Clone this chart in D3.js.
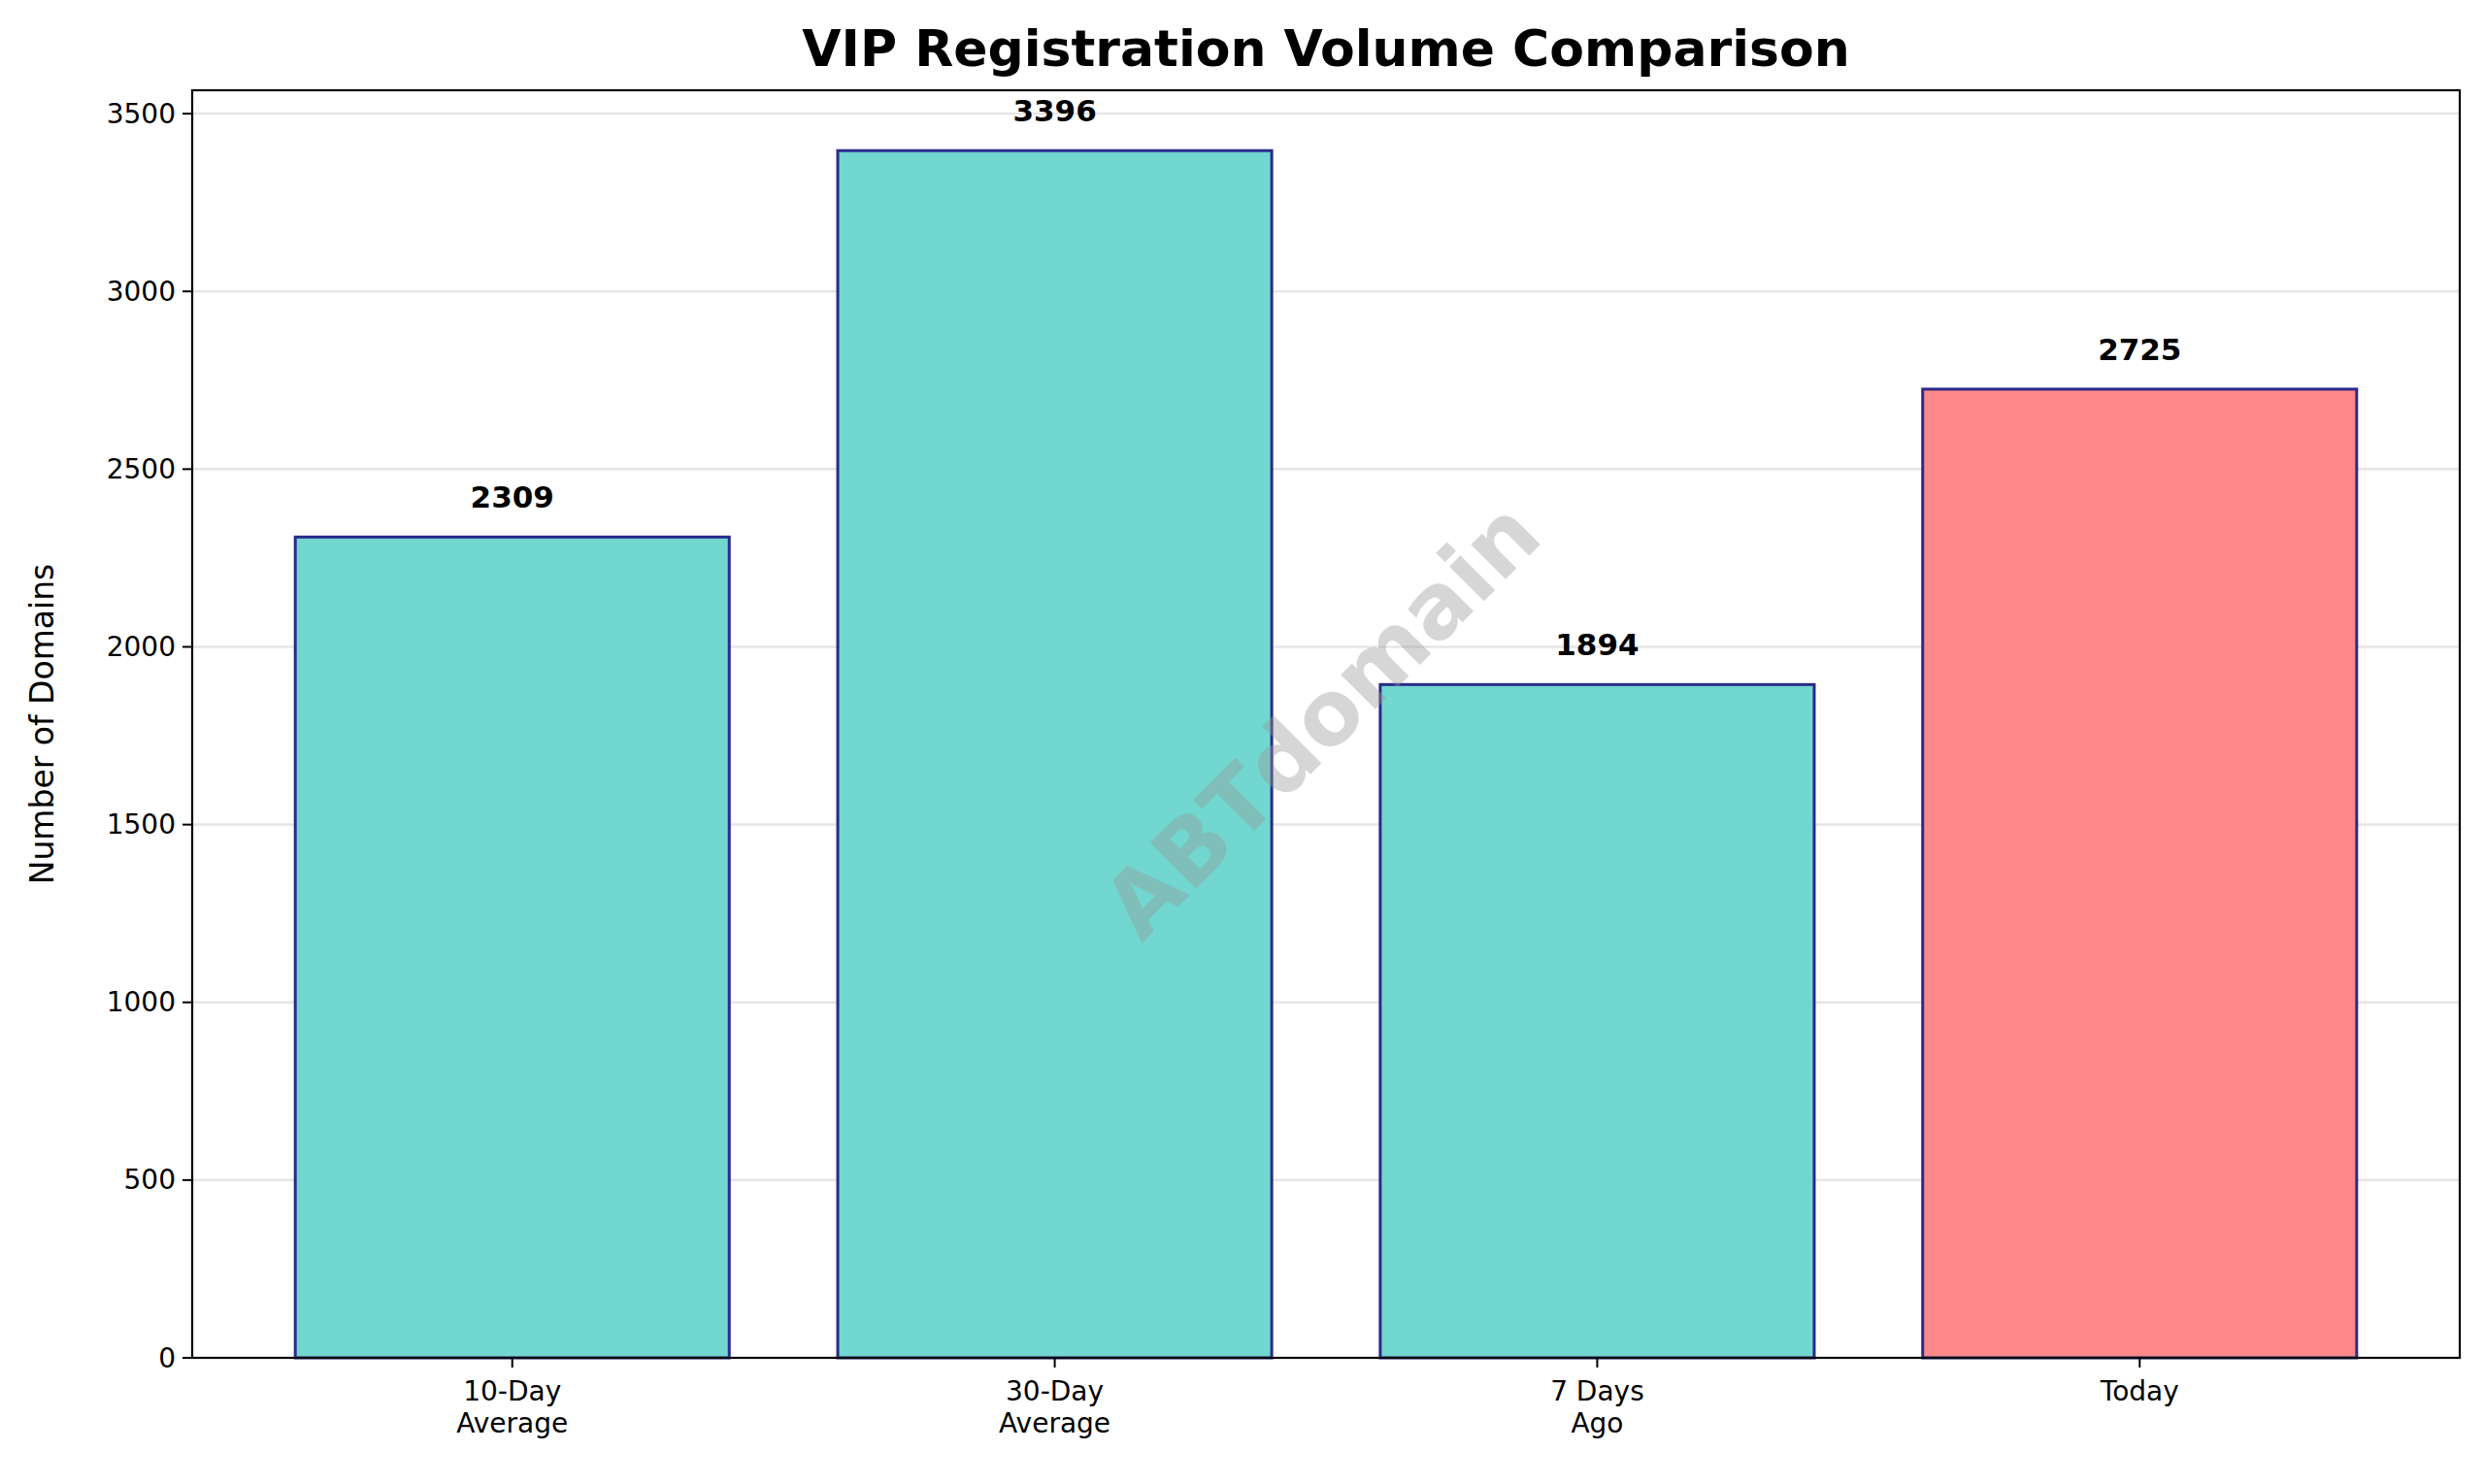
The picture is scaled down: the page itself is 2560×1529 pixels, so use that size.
<!DOCTYPE html>
<html>
<head>
<meta charset="utf-8">
<script src="https://cdn.jsdelivr.net/npm/d3@7"></script>
<style>
  body { margin: 0; background: #fff; }
  text { font-family: "DejaVu Sans", sans-serif; }
</style>
</head>
<body>
<svg id="chart" width="2560" height="1529"></svg>
<script>
// data
const categories = [["10-Day", "Average"], ["30-Day", "Average"], ["7 Days", "Ago"], ["Today"]];
const values = [2309, 3396, 1894, 2725];
const barColors = ["#71d7d0", "#71d7d0", "#71d7d0", "#ff8989"];
const yTicks = [0, 500, 1000, 1500, 2000, 2500, 3000, 3500];

const svg = d3.select("#chart");
const mLeft = 198, mRight = 2534, mTop = 93, mBottom = 1399;

const x = d3.scaleLinear().domain([-0.59, 3.59]).range([mLeft, mRight]);
const y = d3.scaleLinear().domain([0, 3396 * 1.05]).range([mBottom, mTop]);
const barW = x(0.8) - x(0);

// grid
svg.append("g").selectAll("line").data(yTicks.slice(1)).enter().append("line")
  .attr("x1", mLeft).attr("x2", mRight)
  .attr("y1", d => y(d)).attr("y2", d => y(d))
  .attr("stroke", "#e6e6e6").attr("stroke-width", 2.5);

// bars
svg.append("g").selectAll("rect").data(values).enter().append("rect")
  .attr("x", (d, i) => x(i) - barW / 2)
  .attr("width", barW)
  .attr("y", d => y(d))
  .attr("height", d => mBottom - y(d))
  .attr("fill", (d, i) => barColors[i])
  .attr("stroke", "#2a2a8a").attr("stroke-width", 3);

// value labels
svg.append("g").selectAll("text").data(values).enter().append("text")
  .attr("x", (d, i) => x(i))
  .attr("y", d => y(d) - 30)
  .attr("text-anchor", "middle")
  .attr("font-size", 31).attr("font-weight", "bold")
  .text(d => d);

// watermark
svg.append("text")
  .attr("transform", `translate(${(mLeft + mRight) / 2},${(mTop + mBottom) / 2}) rotate(-45)`)
  .attr("text-anchor", "middle").attr("dominant-baseline", "middle")
  .attr("font-size", 92).attr("font-weight", "bold")
  .attr("fill", "#999").attr("fill-opacity", 0.4)
  .text("ABTdomain");

// axes frame
svg.append("rect").attr("x", mLeft).attr("y", mTop)
  .attr("width", mRight - mLeft).attr("height", mBottom - mTop)
  .attr("fill", "none").attr("stroke", "#000").attr("stroke-width", 2.2);

// y ticks
const yg = svg.append("g");
yTicks.forEach(t => {
  yg.append("line").attr("x1", mLeft - 10).attr("x2", mLeft)
    .attr("y1", y(t)).attr("y2", y(t)).attr("stroke", "#000").attr("stroke-width", 2);
  yg.append("text").attr("x", mLeft - 17).attr("y", y(t))
    .attr("text-anchor", "end").attr("dominant-baseline", "central")
    .attr("font-size", 28).text(t);
});

// x ticks
const xg = svg.append("g");
categories.forEach((c, i) => {
  xg.append("line").attr("x1", x(i)).attr("x2", x(i))
    .attr("y1", mBottom).attr("y2", mBottom + 10).attr("stroke", "#000").attr("stroke-width", 2);
  const t = xg.append("text").attr("x", x(i)).attr("y", mBottom + 44)
    .attr("text-anchor", "middle").attr("font-size", 28);
  c.forEach((line, j) => t.append("tspan").attr("x", x(i)).attr("dy", j ? 33 : 0).text(line));
});

// y label
svg.append("text")
  .attr("transform", `translate(55,${(mTop + mBottom) / 2}) rotate(-90)`)
  .attr("text-anchor", "middle").attr("font-size", 33)
  .text("Number of Domains");

// title
svg.append("text").attr("x", (mLeft + mRight) / 2).attr("y", 68)
  .attr("text-anchor", "middle").attr("font-size", 52).attr("font-weight", "bold")
  .text("VIP Registration Volume Comparison");
</script>
</body>
</html>
